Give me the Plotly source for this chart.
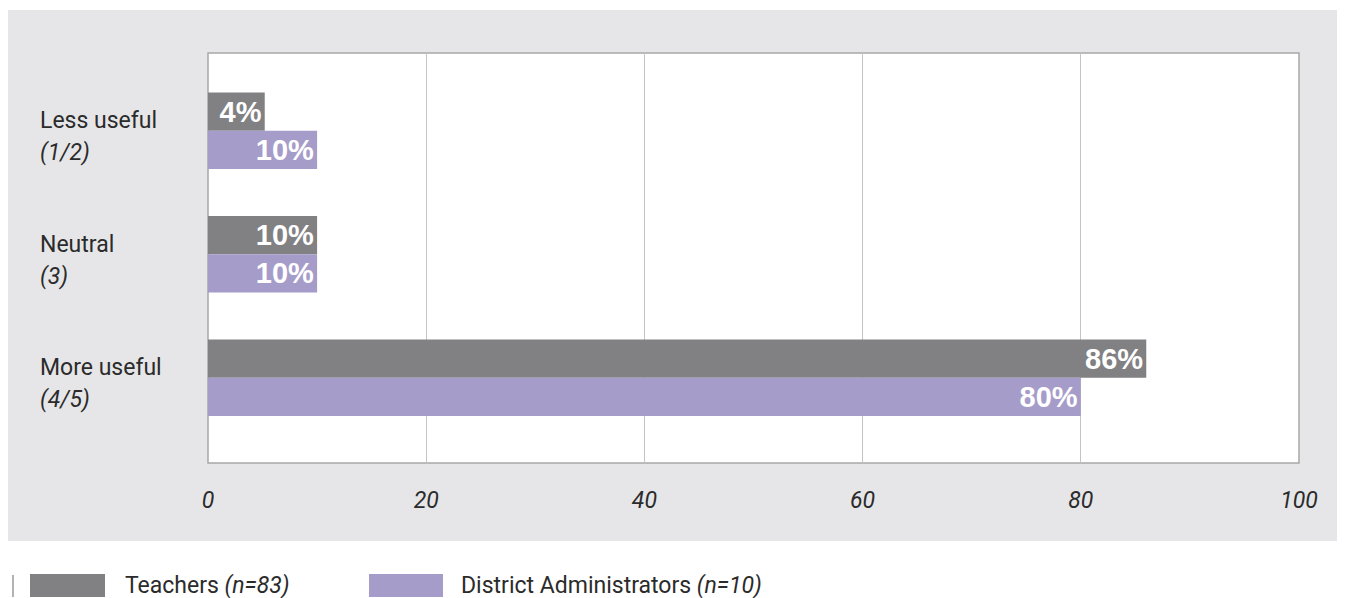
import plotly.graph_objects as go

categories = ["Less useful", "Neutral", "More useful"]
category_notes = ["(1/2)", "(3)", "(4/5)"]
teachers = [5.2, 10, 86]
teacher_labels = ["4%", "10%", "86%"]
admins = [10, 10, 80]
admin_labels = ["10%", "10%", "80%"]
series_names = ["Teachers", "District Administrators"]
series_n = ["83", "10"]
x_ticks = [0, 20, 40, 60, 80, 100]

TEACH_C = "#818183"
ADMIN_C = "#a69cc9"
FONT = "Liberation Sans Narrow, Roboto, Arial"

OFF = 8  # page body margin
W, H = 1345 - OFF, 598 - OFF
L, R, T, B = 208 - OFF, 46, 53 - OFF, 135
pw, ph = W - L - R, H - T - B

def px(x):
    return (x - OFF - L) / pw

def py(y):
    return (H - B - (y - OFF)) / ph

fig = go.Figure()
fig.add_trace(go.Bar(
    y=categories, x=teachers, orientation="h", name=series_names[0],
    marker=dict(color=TEACH_C, line=dict(width=0)),
    text=teacher_labels, textposition="inside", insidetextanchor="end",
    textfont=dict(color="white", size=29, family="Liberation Sans, Arial"),
    texttemplate="<b>%{text}</b>", cliponaxis=False,
))
fig.add_trace(go.Bar(
    y=categories, x=admins, orientation="h", name=series_names[1],
    marker=dict(color=ADMIN_C, line=dict(width=0)),
    text=admin_labels, textposition="inside", insidetextanchor="end",
    textfont=dict(color="white", size=29, family="Liberation Sans, Arial"),
    texttemplate="<b>%{text}</b>", cliponaxis=False,
))

shapes = [
    dict(type="rect", xref="paper", yref="paper", x0=px(8), x1=px(1340), y0=py(541), y1=py(10),
         fillcolor="#e6e6e8", line=dict(width=0), layer="below"),
    dict(type="rect", xref="paper", yref="paper", x0=0, x1=1, y0=0, y1=1,
         fillcolor="white", line=dict(color="#a8a8a8", width=1.5), layer="below"),
    # legend swatches
    dict(type="rect", xref="paper", yref="paper", x0=px(30), x1=px(105), y0=py(597), y1=py(574),
         fillcolor=TEACH_C, line=dict(width=0)),
    dict(type="rect", xref="paper", yref="paper", x0=px(369), x1=px(443), y0=py(597), y1=py(574),
         fillcolor=ADMIN_C, line=dict(width=0)),
    dict(type="line", xref="paper", yref="paper", x0=px(13), x1=px(13), y0=py(597), y1=py(575),
         line=dict(color="#666", width=1)),
]

annotations = []
for cat, note in zip(categories, category_notes):
    annotations.append(dict(x=px(38), xref="paper", y=cat, yref="y", yshift=10,
                            text=cat, showarrow=False, xanchor="left", yanchor="middle",
                            font=dict(size=23, color="#2b2b2b", family=FONT)))
    annotations.append(dict(x=px(38), xref="paper", y=cat, yref="y", yshift=-22,
                            text=f"<i>{note}</i>", showarrow=False, xanchor="left", yanchor="middle",
                            font=dict(size=23, color="#2b2b2b", family=FONT)))

annotations.append(dict(x=px(123), xref="paper", y=py(585), yref="paper",
                        text=f"{series_names[0]} <i>(n={series_n[0]})</i>", showarrow=False,
                        xanchor="left", yanchor="middle",
                        font=dict(size=23, color="#2b2b2b", family=FONT)))
annotations.append(dict(x=px(459), xref="paper", y=py(585), yref="paper",
                        text=f"{series_names[1]} <i>(n={series_n[1]})</i>", showarrow=False,
                        xanchor="left", yanchor="middle",
                        font=dict(size=23, color="#2b2b2b", family=FONT)))

fig.update_layout(
    width=W, height=H,
    margin=dict(l=L, r=R, t=T, b=B, pad=0),
    paper_bgcolor="white", plot_bgcolor="rgba(0,0,0,0)",
    barmode="group", bargap=0.38, bargroupgap=0,
    showlegend=False,
    shapes=shapes, annotations=annotations,
    xaxis=dict(range=[0, 100], tickvals=x_ticks,
               ticktext=[f"<i>{t}</i>" for t in x_ticks],
               showgrid=True, gridcolor="#c4c4c4", gridwidth=1,
               zeroline=False, showline=False,
               ticks="outside", ticklen=16, tickcolor="rgba(0,0,0,0)",
               tickfont=dict(size=23, color="#2b2b2b", family=FONT)),
    yaxis=dict(type="category", range=[2.69, -0.63], showticklabels=False,
               showgrid=False, zeroline=False, showline=False),
)

fig.write_html("out.html")
